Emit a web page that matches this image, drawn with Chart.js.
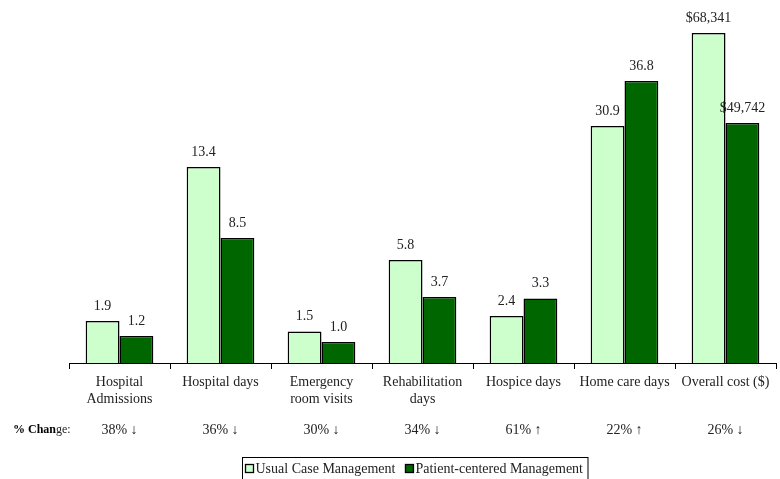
<!DOCTYPE html>
<html>
<head>
<meta charset="utf-8">
<script src="https://cdn.jsdelivr.net/npm/chart.js@4"></script>
<style>
  html, body { margin: 0; padding: 0; background: #fff; }
  #wrap { width: 780px; height: 479px; }
</style>
</head>
<body>
<div id="wrap"><canvas id="chart"></canvas></div>
<script>
const categories = [
  ['Hospital', 'Admissions'],
  'Hospital days',
  ['Emergency', 'room visits'],
  ['Rehabilitation', 'days'],
  'Hospice days',
  'Home care days',
  'Overall cost ($)'
];
const seriesNames = ['Usual Case Management', 'Patient-centered Management'];

// values printed above the bars
const usualValues = [1.9, 13.4, 1.5, 5.8, 2.4, 30.9, 68341];
const patientValues = [1.2, 8.5, 1.0, 3.7, 3.3, 36.8, 49742];

// bar heights as drawn (each group has its own scale in the original figure)
const usualHeights = [42, 196, 31.5, 103, 47, 237, 330];
const patientHeights = [27, 125, 21, 66, 64.5, 282, 240];

const pctChange = ['38% ↓', '36% ↓', '30% ↓', '34% ↓', '61% ↑', '22% ↑', '26% ↓'];

const FONT = '"Liberation Serif", "Times New Roman", serif';
const LIGHT = '#ccffcc';
const DARK = '#006600';

function formatValue(v, i) {
  if (i === categories.length - 1) return '$' + v.toLocaleString('en-US');
  return v.toFixed(1);
}

const valueLabels = {
  id: 'valueLabels',
  afterDatasetsDraw(chart) {
    const ctx = chart.ctx;
    const sets = [usualValues, patientValues];
    ctx.save();
    ctx.font = '14px ' + FONT;
    ctx.fillStyle = '#222';
    ctx.textAlign = 'center';
    ctx.textBaseline = 'middle';
    chart.data.datasets.forEach((ds, d) => {
      chart.getDatasetMeta(d).data.forEach((bar, i) => {
        ctx.fillText(formatValue(sets[d][i], i), bar.x, bar.y - 15);
      });
    });
    ctx.restore();
  }
};

const extras = {
  id: 'extras',
  afterDraw(chart) {
    const ctx = chart.ctx;
    const x = chart.scales.x;
    ctx.save();
    ctx.fillStyle = '#222';
    ctx.textBaseline = 'middle';

    // % change row
    ctx.font = '14px ' + FONT;
    ctx.textAlign = 'center';
    pctChange.forEach((t, i) => {
      ctx.fillText(t, x.getPixelForValue(i), 430);
    });
    ctx.textAlign = 'left';
    ctx.font = 'bold 12px ' + FONT;
    ctx.fillStyle = '#000';
    ctx.fillText('% Chan', 13, 430);
    let w = ctx.measureText('% Chan').width;
    ctx.font = '12px ' + FONT;
    ctx.fillStyle = '#222';
    ctx.fillText('ge:', 13 + w, 430);

    // legend box
    ctx.font = '14px ' + FONT;
    const box = 8, gap = 2, between = 10, padL = 3, padR = 5;
    const w1 = ctx.measureText(seriesNames[0]).width;
    const w2 = ctx.measureText(seriesNames[1]).width;
    const total = padL + box + gap + w1 + between + box + gap + w2 + padR;
    const left = Math.round(415 - total / 2) + 0.5;
    const top = 457.5;
    ctx.strokeStyle = '#000';
    ctx.lineWidth = 1;
    ctx.strokeRect(left, top, total, 40);
    const cy = 468.5;
    let cx = left + padL;
    [LIGHT, DARK].forEach((c, k) => {
      ctx.fillStyle = c;
      ctx.fillRect(cx, cy - box / 2, box, box);
      ctx.lineWidth = 1.3;
      ctx.strokeRect(cx, cy - box / 2, box, box);
      cx += box + gap;
      ctx.fillStyle = '#222';
      ctx.fillText(seriesNames[k], cx, cy + 1);
      cx += (k === 0 ? w1 : w2) + between;
    });
    ctx.restore();
  }
};

new Chart(document.getElementById('chart'), {
  type: 'bar',
  data: {
    labels: categories,
    datasets: [
      {
        label: seriesNames[0],
        data: usualHeights,
        backgroundColor: LIGHT,
        borderColor: '#000',
        borderWidth: 1.5,
        categoryPercentage: 0.67,
        barPercentage: 1.0
      },
      {
        label: seriesNames[1],
        data: patientHeights,
        backgroundColor: DARK,
        borderColor: '#000',
        borderWidth: 1.5,
        categoryPercentage: 0.67,
        barPercentage: 1.0
      }
    ]
  },
  options: {
    responsive: true,
    maintainAspectRatio: false,
    animation: false,
    layout: { padding: { left: 69, right: 4, top: 0, bottom: 0 } },
    plugins: {
      legend: { display: false },
      tooltip: { enabled: false }
    },
    scales: {
      y: { display: false, min: 0, max: 363 },
      x: {
        afterFit(scale) { scale.height = 116; },
        border: { color: '#000', width: 1 },
        grid: {
          drawOnChartArea: false,
          drawTicks: true,
          tickLength: 6,
          color: '#000',
          lineWidth: 1
        },
        ticks: {
          color: '#222',
          padding: 5,
          maxRotation: 0,
          autoSkip: false,
          font: { family: FONT, size: 14, lineHeight: 1.2 }
        }
      }
    }
  },
  plugins: [valueLabels, extras]
});
</script>
</body>
</html>
